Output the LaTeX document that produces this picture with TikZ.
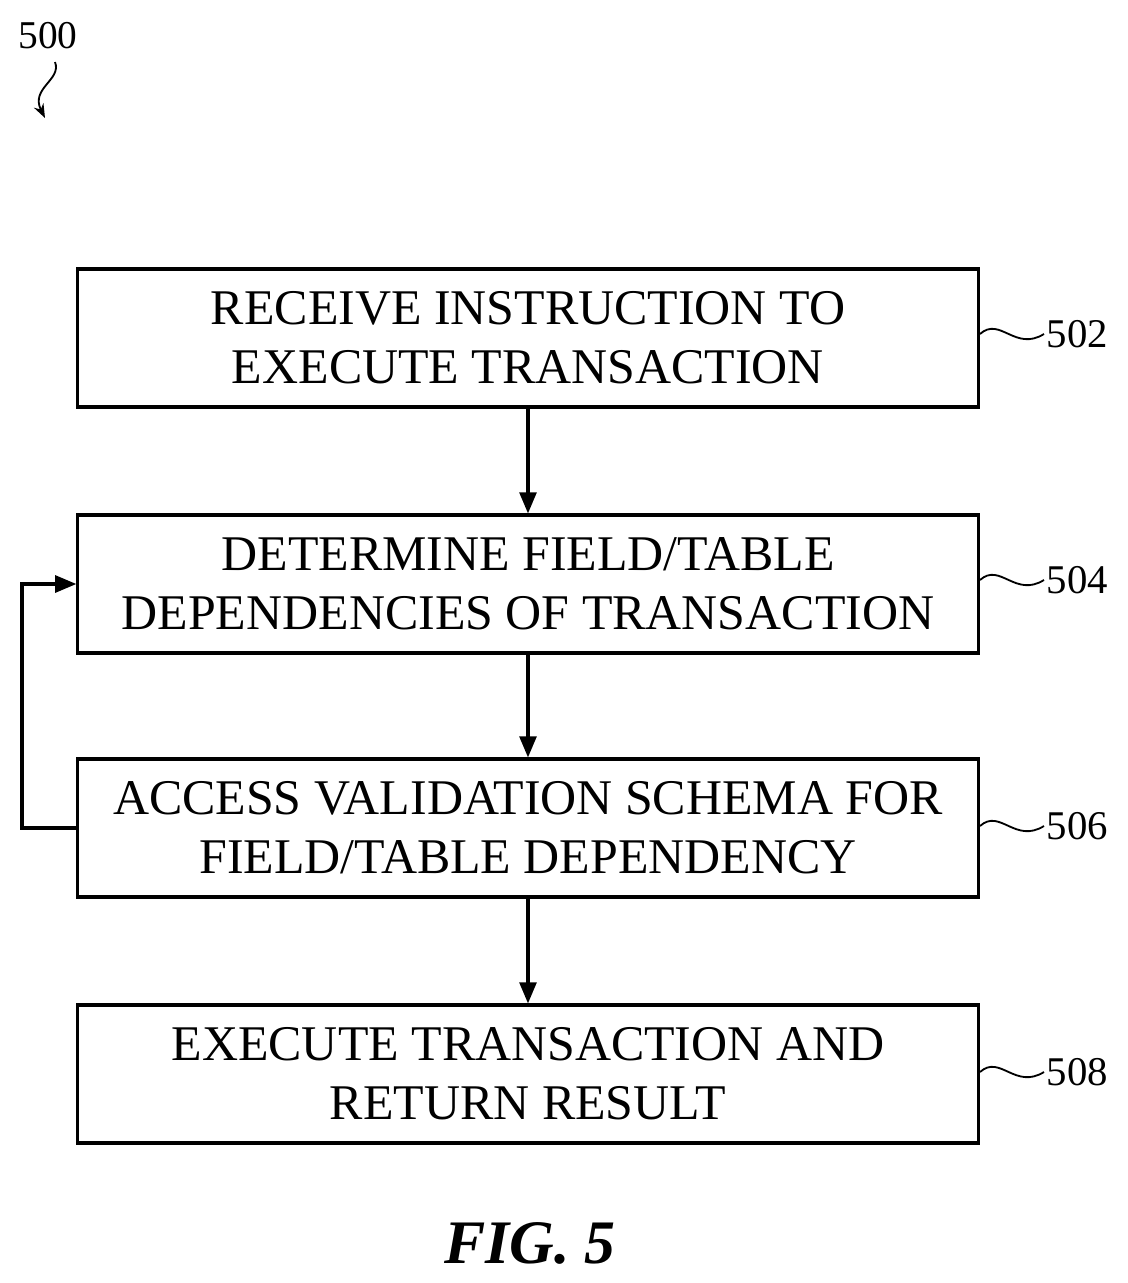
\documentclass[tikz,border=0pt]{standalone}
\usepackage{fontspec}
\setmainfont{Liberation Serif}
\usetikzlibrary{positioning,arrows.meta}
\tikzset{
    stepbox/.style={draw, line width=2.2pt, minimum width=22.5cm, minimum height=3.45cm, align=center, font=\fontsize{35.5}{42}\selectfont},
    flow/.style={line width=2.2pt, -{Triangle[length=15pt,width=12pt]}},
    tag/.style={font=\fontsize{29}{32}\selectfont, anchor=west}
}
\begin{document}
\begin{tikzpicture}[x=0.025cm,y=-0.025cm]
    \useasboundingbox (0,0) rectangle (1128,1283);

    % steps
    \node[stepbox] (s502) at (528,338) {RECEIVE INSTRUCTION TO\\EXECUTE TRANSACTION};
    \node[stepbox] (s504) at (528,584) {DETERMINE FIELD/TABLE\\DEPENDENCIES OF TRANSACTION};
    \node[stepbox] (s506) at (528,828) {ACCESS VALIDATION SCHEMA FOR\\FIELD/TABLE DEPENDENCY};
    \node[stepbox] (s508) at (528,1074) {EXECUTE TRANSACTION AND\\RETURN RESULT};

    \draw[flow] (s502) -- (s504);
    \draw[flow] (s504) -- (s506);
    \draw[flow] (s506) -- (s508);
    \coordinate (back) at (22,828);
    \draw[flow] (s506.west) -- (back) |- (s504.west);

    % reference numbers
    \foreach \n/\y in {502/334, 504/580, 506/826, 508/1072} {
        \draw[line width=1.3pt] (980,\y) .. controls (1000,\y-18) and (1015,\y+18) .. (1044,\y);
        \node[tag] (t\n) at (1042,\y) {\n};
    }

    \node[font=\fontsize{28}{30}\selectfont] (fig500) at (48,36) {500};
    \coordinate (tip) at (45,118);
    \draw[line width=1.3pt, -{Stealth[length=10pt]}] (55,62) .. controls (62,80) and (30,88) .. (tip);

    \node[font=\fontsize{44}{50}\selectfont\bfseries\itshape] (fig) at (530,1243) {FIG. 5};
\end{tikzpicture}
\end{document}
